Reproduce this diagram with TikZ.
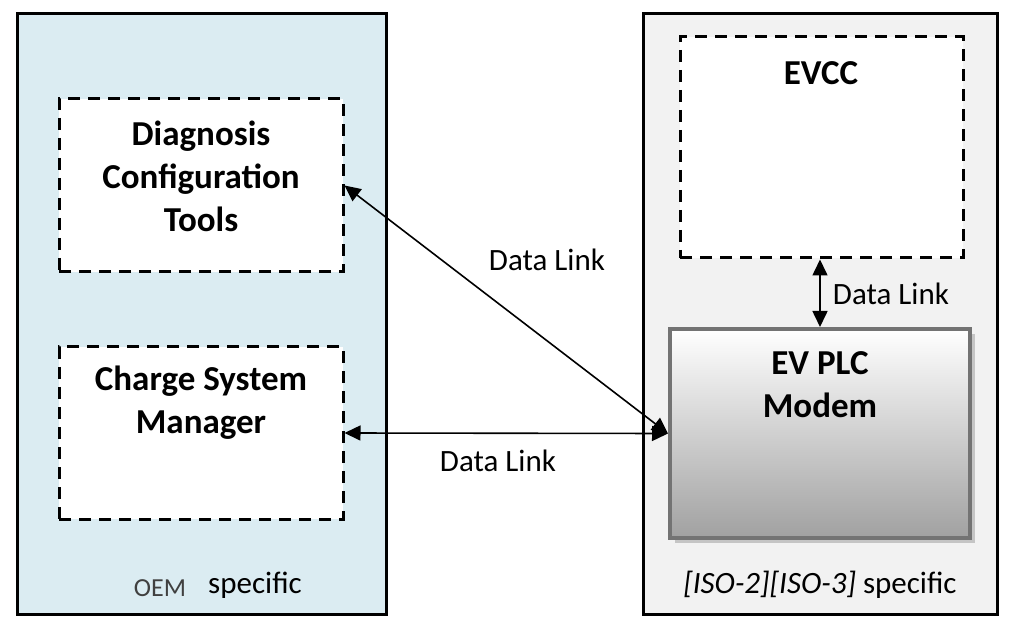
\documentclass[tikz,border=0pt]{standalone}
\usepackage{fontspec}
\setmainfont{Carlito}
\usetikzlibrary{arrows.meta,positioning,shadows}
\definecolor{oemblue}{RGB}{219,236,242}
\definecolor{isogray}{RGB}{242,242,242}
\definecolor{oemtext}{RGB}{64,64,64}

\begin{document}
\begin{tikzpicture}[x=1pt, y=-1pt,
    side/.style={draw, line width=3pt, inner sep=0pt},
    unit/.style={draw, fill=white, line width=3pt, dash pattern=on 12pt off 8pt, inner sep=0pt},
    heading/.style={align=center, font=\fontsize{35}{43}\selectfont\bfseries},
    linktext/.style={font=\fontsize{31}{38}\selectfont},
    link/.style={{Triangle[length=16pt,width=15pt]}-{Triangle[length=16pt,width=15pt]}, line width=1.6pt}]
\useasboundingbox (0,0) rectangle (1015,628);
% the two sides
\node[side, fill=oemblue, minimum width=369pt, minimum height=600pt] (oem) at (201.5,314) {};
\node[side, fill=isogray, minimum width=354pt, minimum height=600pt] (iso) at (820,314) {};
% units on the OEM side
\node[unit, minimum width=284pt, minimum height=173pt] (diag) at (201,185.5) {};
\node[unit, minimum width=284pt, minimum height=172pt] (csm) at (201,433) {};
\node[heading] (diagtext) at (201,176) {Diagnosis\\Configuration\\Tools};
\node[heading] (csmtext) at (201,403) {Charge System\\Manager};
% units on the ISO side
\node[unit, minimum width=283pt, minimum height=221pt] (evcc) at (821.5,147.5) {};
\node[heading] (evcctext) at (821,73) {EVCC};
\node[draw=black!55, line width=4pt, top color=white, bottom color=black!37,
    drop shadow={shadow xshift=5pt, shadow yshift=-5pt, fill=black!30, opacity=0.7},
    minimum width=300pt, minimum height=209pt, inner sep=0pt] (modem) at (820,433.5) {};
\node[heading] (modemtext) at (820,385) {EV PLC\\Modem};
% data links
\draw[link] (diag.east) -- (modem.west);
\draw[link] (csm.east) -- (modem.west);
\draw[link] (evcc.south -| modem.north) -- (modem.north);
\node[linktext] (link1) at (547,260) {Data Link};
\node[linktext] (link2) at (498,461) {Data Link};
\node[linktext] (link3) at (891,294) {Data Link};
% footers
\node[font=\fontsize{26}{30}\selectfont, text=oemtext] (oemlabel) at (160,588) {OEM};
\node[linktext] (oemspec) at (255,585) {specific};
\node[linktext] (isolabel) at (820,585) {\textit{[ISO-2][ISO-3]} specific};
\end{tikzpicture}
\end{document}
